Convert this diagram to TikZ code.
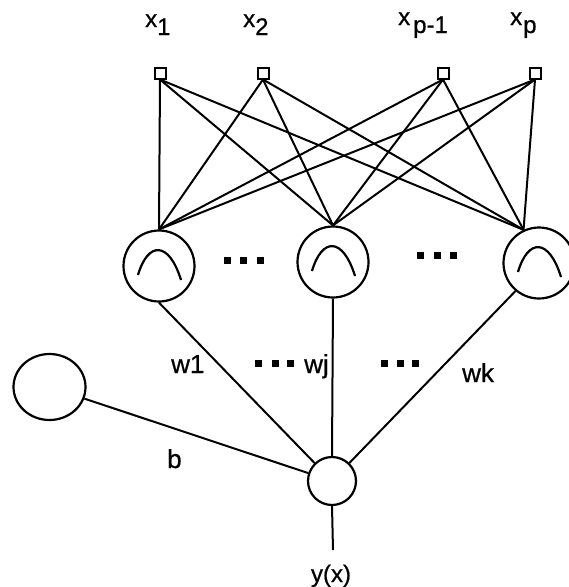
\documentclass[tikz,border=0pt]{standalone}
\usepackage{fontspec}
\setmainfont[FakeBold=0.7]{Liberation Sans}
\usetikzlibrary{shapes.geometric}
\tikzset{
 inp/.style={draw, rectangle, minimum size=11pt, inner sep=0pt, line width=2pt},
 hid/.style={draw, circle, minimum size=71pt, inner sep=0pt, line width=2.2pt},
 outn/.style={draw, circle, minimum size=48pt, inner sep=0pt, line width=2.2pt},
 biasn/.style={draw, ellipse, minimum width=72pt, minimum height=66pt, inner sep=0pt, line width=2.2pt},
 conn/.style={line width=2pt},
 lab/.style={inner sep=0pt, font=\fontsize{24}{28}\selectfont},
 wlab/.style={inner sep=0pt, font=\fontsize{26}{30}\selectfont},
 bump/.style={line width=2.2pt},
 sqdot/.style={fill, rectangle, minimum size=7pt, inner sep=0pt}
}
\newcommand\bumpat[1]{\draw[bump] ([shift={(-21,9)}]#1.center) .. controls ([shift={(-11,-25)}]#1.center) and ([shift={(10,-25)}]#1.center) .. ([shift={(22,14)}]#1.center);}
\begin{document}
\begin{tikzpicture}[x=1pt,y=-1pt]
\useasboundingbox (0,0) rectangle (569,587);
% input labels
\node[lab, anchor=base west] (l1) at (145,27) {x\raisebox{-8pt}{1}};
\node[lab, anchor=base west] (l2) at (243,27) {x\raisebox{-8pt}{2}};
\node[lab, anchor=base west] (l3) at (398,25) {x\hspace{3pt}\raisebox{-8pt}{p-1}};
\node[lab, anchor=base west] (l4) at (510,25) {x\hspace{1pt}\raisebox{-8pt}{p}};
% inputs
\node[inp] (x1) at (160,73) {};
\node[inp] (x2) at (263,73) {};
\node[inp] (x3) at (443,73) {};
\node[inp] (x4) at (535,73) {};
% hidden
\node[hid] (h1) at (159,266) {};
\node[hid] (h2) at (333,262) {};
\node[hid] (h3) at (539,263) {};
\bumpat{h1}
\bumpat{h2}
\bumpat{h3}
% output and bias
\node[outn] (o) at (332,481) {};
\node[biasn] (b) at (49.5,387) {};
\coordinate (yend) at (333,550);
% input-hidden connections
\foreach \i in {x1,x2,x3,x4}{
  \draw[conn] (\i.south) -- (h1.north);
  \draw[conn] (\i.south) -- (h2.north);
  \draw[conn] (\i.south) -- (h3.115);
}
% hidden-output
\draw[conn] (h1.south) -- (o);
\draw[conn] (h2.south) -- (o.north);
\draw[conn] (h3.-130) -- (o);
\draw[conn] (b) -- (o);
\draw[conn] (o.south) -- (yend);
% dots
\node[sqdot] (da1) at (227,260) {};
\node[sqdot] (da2) at (243,260) {};
\node[sqdot] (da3) at (260,260) {};
\node[sqdot] (db1) at (420,255) {};
\node[sqdot] (db2) at (437,255) {};
\node[sqdot] (db3) at (453,255) {};
\node[sqdot] (dc1) at (258,363) {};
\node[sqdot] (dc2) at (275,363) {};
\node[sqdot] (dc3) at (290,363) {};
\node[sqdot] (dd1) at (384,363) {};
\node[sqdot] (dd2) at (400,363) {};
\node[sqdot] (dd3) at (415,363) {};
% weight labels
\node[wlab, anchor=base west] (w1) at (171,373) {w1};
\node[wlab, anchor=base west] (wj) at (304,373) {wj};
\node[wlab, anchor=base west] (wk) at (462,382) {wk};
\node[wlab, anchor=base west] (bl) at (167,468) {b};
\node[lab, anchor=base] (yx) at (331,582) {y(x)};
\end{tikzpicture}
\end{document}
